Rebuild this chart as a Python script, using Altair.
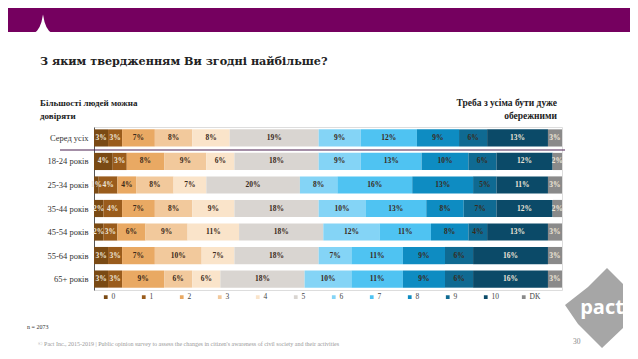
import altair as alt
import pandas as pd

groups = ["Серед усіх", "18-24 років", "25-34 років", "35-44 років", "45-54 років", "55-64 років", "65+ років"]
cats = ["0", "1", "2", "3", "4", "5", "6", "7", "8", "9", "10", "DK"]
values = [
    [3, 3, 7, 8, 8, 19, 9, 12, 9, 6, 13, 3],
    [4, 3, 8, 9, 6, 18, 9, 13, 10, 6, 12, 2],
    [1, 4, 4, 8, 7, 20, 8, 16, 13, 5, 11, 3],
    [2, 4, 7, 8, 9, 18, 10, 13, 8, 7, 12, 2],
    [2, 3, 6, 9, 11, 18, 12, 11, 8, 4, 13, 3],
    [3, 3, 7, 10, 7, 18, 7, 11, 9, 6, 16, 3],
    [3, 3, 9, 6, 6, 18, 10, 11, 9, 6, 16, 3],
]
colors = ["#7a4a14", "#9a5c1c", "#e9a963", "#f2c99c", "#fae4ca", "#d9d5d1",
          "#84d4f6", "#4fc3f2", "#0e8cc2", "#0f6a92", "#0b4a68", "#8a8a8a"]

rows = []
for g, vals in zip(groups, values):
    for i, (c, v) in enumerate(zip(cats, vals)):
        rows.append({"group": g, "cat": c, "idx": i, "value": v})
df = pd.DataFrame(rows)
one = alt.Data(values=[{"k": 1}])

SERIF = "Liberation Serif"
W, H = 468, 163

base = alt.Chart(df).transform_stack(
    stack="value", groupby=["group"], as_=["x0", "x1"], sort=[alt.SortField("idx")]
).transform_calculate(
    mid="(datum.x0 + datum.x1) / 2", label="datum.value + '%'"
)

bars = base.mark_bar().encode(
    y=alt.Y("group:N", sort=groups, scale=alt.Scale(paddingInner=0.27, paddingOuter=0.1),
            axis=alt.Axis(title=None, ticks=False, grid=False, domain=True, domainColor="#555555",
                          labelFont=SERIF, labelFontSize=8.5, labelColor="#333333", labelPadding=6)),
    x=alt.X("x0:Q", scale=alt.Scale(domain=[0, 100], nice=False), axis=None),
    x2="x1:Q",
    color=alt.Color("cat:N", sort=cats, scale=alt.Scale(domain=cats, range=colors),
                    legend=alt.Legend(title=None, orient="none", legendX=8, legendY=166,
                                      direction="horizontal", columns=12, symbolType="square",
                                      symbolSize=14, symbolStrokeWidth=0, labelFont=SERIF,
                                      labelFontSize=7.5, labelColor="#444444", gridAlign="all",
                                      columnPadding=17, symbolOffset=0, labelOffset=2)),
)

texts = base.mark_text(font=SERIF, fontSize=7.5, fontWeight="bold").encode(
    y=alt.Y("group:N", sort=groups),
    x=alt.X("mid:Q"),
    text="label:N",
    color=alt.condition(alt.FieldOneOfPredicate(field="cat", oneOf=["0", "1", "10", "DK"]),
                        alt.value("#eee6d8"), alt.value("#3a2a1a")),
)

sep = alt.Chart(one).mark_rule(color="#4a2050", strokeWidth=1.2).encode(
    x=alt.value(-34), x2=alt.value(471), y=alt.value(23)
)

banner = alt.Chart(one).mark_rect(color="#75005f").encode(
    x=alt.value(-94), x2=alt.value(544), y=alt.value(-127), y2=alt.value(-95)
)
notch = alt.Chart(one).mark_point(filled=True, color="#ffffff", opacity=1,
                                  shape="M-1,1 Q-0.25,0.7 0,-1 Q0.25,0.7 1,1 Z", size=360).encode(
    x=alt.value(-51), y=alt.value(-103)
)

def label(txt, x, y, size, weight="normal", align="left", color="#222222", font=SERIF):
    return alt.Chart(one).mark_text(text=txt, font=font, fontSize=size, fontWeight=weight,
                                    align=align, baseline="middle", color=color).encode(
        x=alt.value(x), y=alt.value(y))

title = label("З яким твердженням Ви згодні найбільше?", -54, -65, 11.2, "bold", font="DejaVu Serif")
lh1 = label("Більшості людей можна", -54, -24, 9, "bold")
lh2 = label("довіряти", -54, -11, 9, "bold")
rh1 = label("Треба з усіма бути дуже", 463, -24, 9.5, "bold", align="right")
rh2 = label("обережними", 463, -11, 9.5, "bold", align="right")
nlab = label("n = 2073", -67, 200, 6, color="#333333")
foot = label("© Pact Inc., 2015-2019 | Public opinion survey to assess the changes in citizen's awareness of civil society and their activities",
             -56, 217, 6, color="#999999")
page = label("30", 479, 215, 7.5, color="#888888")

logo = alt.Chart(one).mark_point(filled=True, color="#a6a6a6", opacity=1,
                                 shape="M0.325,-1 L0.725,-0.6 L0.725,0.5 L0.2,1 L-0.4,0.4 L-0.725,-0.075 L-0.15,-0.525 Z",
                                 size=6400).encode(x=alt.value(500), y=alt.value(181))
logotext = label("pact", 508, 181, 20, "bold", align="center", color="#ffffff", font="Open Sans")

chart = alt.layer(banner, notch, bars, texts, sep, title, lh1, lh2, rh1, rh2, nlab, foot, logo, logotext, page).properties(
    width=W, height=H,
    autosize=alt.AutoSizeParams(type="none"),
    padding={"left": 86, "top": 119, "right": 68, "bottom": 61},
).configure_view(stroke=None).configure(background="#ffffff")

chart.save("out.html", embed_options={"renderer": "svg", "actions": False})
